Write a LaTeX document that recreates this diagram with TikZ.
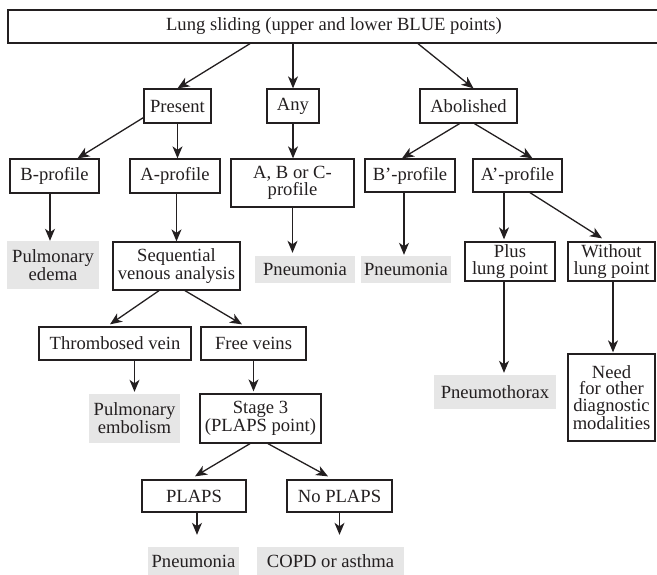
\documentclass[tikz,border=0pt]{standalone}
\usepackage{fontspec}
\setmainfont{Liberation Serif}
\usetikzlibrary{arrows.meta}
\definecolor{ink}{RGB}{35,31,32}
\definecolor{shade}{RGB}{230,230,230}
\tikzset{
  box/.style={draw=ink, line width=1.3pt, inner sep=0pt, align=center, text=ink},
  res/.style={fill=shade, inner sep=0pt, align=center, text=ink},
  arr/.style={-{Stealth[length=12pt,width=10pt,inset=3.5pt]}, draw=ink, line width=1.3pt},
}

\begin{document}
\begin{tikzpicture}[x=1pt,y=-1pt,font=\fontsize{18.6}{16.8}\selectfont]
\useasboundingbox (0,0) rectangle (657,574);
% top level
\node[box,minimum width=652,minimum height=33] (lung) at (334,26.5) {Lung sliding (upper and lower BLUE points)};
\node[box,minimum width=67,minimum height=34] (present) at (177.5,106) {Present};
\node[box,minimum width=52,minimum height=34] (any) at (293,106) {Any};
\node[box,minimum width=97,minimum height=34] (abolished) at (468.5,106) {Abolished};
% profiles
\node[box,minimum width=89,minimum height=34] (bprof) at (54.5,176) {B-profile};
\node[box,minimum width=90,minimum height=34] (aprof) at (175,176) {A-profile};
\node[box,minimum width=123,minimum height=48] (abcprof) at (292.5,183) {A, B or C-\\profile};
\node[box,minimum width=90,minimum height=33] (bpprof) at (410,175.5) {B'-profile};
\node[box,minimum width=89,minimum height=33] (approf) at (517.5,175.5) {A'-profile};
% third row
\node[res,minimum width=92,minimum height=48] (edema) at (53,265) {Pulmonary\\edema};
\node[box,minimum width=127,minimum height=48] (seq) at (176.5,266) {Sequential\\venous analysis};
\node[res,minimum width=100,minimum height=27] (pneuA) at (305,269.5) {Pneumonia};
\node[res,minimum width=90,minimum height=27] (pneuB) at (406,269.5) {Pneumonia};
\node[box,minimum width=90,minimum height=39] (plus) at (510,261.5) {Plus\\lung point};
\node[box,minimum width=87,minimum height=39] (without) at (611.5,261.5) {Without\\lung point};
% venous branch
\node[box,minimum width=152,minimum height=33] (thromb) at (115,343.5) {Thrombosed vein};
\node[box,minimum width=105,minimum height=33] (free) at (253.5,343.5) {Free veins};
\node[res,minimum width=122,minimum height=34] (ptx) at (495,392) {Pneumothorax};
\node[box,minimum width=87,minimum height=87] (need) at (611.5,397.5) {Need\\for other\\diagnostic\\modalities};
\node[res,minimum width=91,minimum height=49] (embol) at (134.5,418.5) {Pulmonary\\embolism};
\node[box,minimum width=121,minimum height=49] (stage) at (260.5,418.5) {Stage 3\\(PLAPS point)};
\node[box,minimum width=104,minimum height=32] (plaps) at (194,496) {PLAPS};
\node[box,minimum width=105,minimum height=32] (noplaps) at (339.5,496) {No PLAPS};
\node[res,minimum width=91,minimum height=29] (pneuC) at (193.5,561.5) {Pneumonia};
\node[res,minimum width=147,minimum height=29] (copd) at (330.5,561.5) {COPD or asthma};

% arrows
\draw[arr] ([xshift=-84]lung.south) -- (present.north);
\draw[arr] (lung.south -| any.north) -- (any.north);
\draw[arr] ([xshift=84]lung.south) -- ([xshift=5]abolished.north);
\draw[arr] ([yshift=6]present.south west) -- ([xshift=23]bprof.north);
\draw[arr] (present.south) -- (present.south |- aprof.north);
\draw[arr] (any.south) -- (any.south |- abcprof.north);
\draw[arr] ([xshift=-9]abolished.south) -- ([xshift=-8]bpprof.north);
\draw[arr] ([xshift=6]abolished.south) -- ([xshift=15]approf.north);
\draw[arr] ([xshift=-4.5]bprof.south) -- ([xshift=-3]edema.north);
\draw[arr] (seq.north |- aprof.south) -- (seq.north);
\draw[arr] (abcprof.south) -- ([yshift=3]abcprof.south |- pneuA.north);
\draw[arr] ([xshift=-6]bpprof.south) -- ([xshift=-6,yshift=1]bpprof.south |- pneuB.north);
\draw[arr] ([xshift=-6]plus.north |- approf.south) -- ([xshift=-6,yshift=2]plus.north);
\draw[arr] ([xshift=12.5]approf.south) -- ([xshift=-9.5,yshift=3]without.north);
\draw[arr] ([xshift=-17.5]seq.south) -- ([xshift=-5,yshift=2]thromb.north);
\draw[arr] ([xshift=8.5]seq.south) -- ([xshift=-11.5,yshift=2]free.north);
\draw[arr] (embol.north |- thromb.south) -- ([yshift=2]embol.north);
\draw[arr] (free.south) -- ([yshift=2]free.south |- stage.north);
\draw[arr] ([xshift=-10.5]stage.south) -- ([xshift=1,yshift=3]plaps.north);
\draw[arr] ([xshift=7.5]stage.south) -- ([xshift=-11.5,yshift=3]noplaps.north);
\draw[arr] ([xshift=3]plaps.south) -- ([xshift=3,yshift=12]plaps.south |- pneuC.north);
\draw[arr] (noplaps.south) -- ([yshift=12]noplaps.south |- copd.north);
\draw[arr] ([xshift=-6]plus.south) -- ([xshift=-6,yshift=2]plus.south |- ptx.north);
\draw[arr] ([xshift=1.5]without.south) -- ([xshift=1.5,yshift=1]without.south |- need.north);
\end{tikzpicture}
\end{document}
